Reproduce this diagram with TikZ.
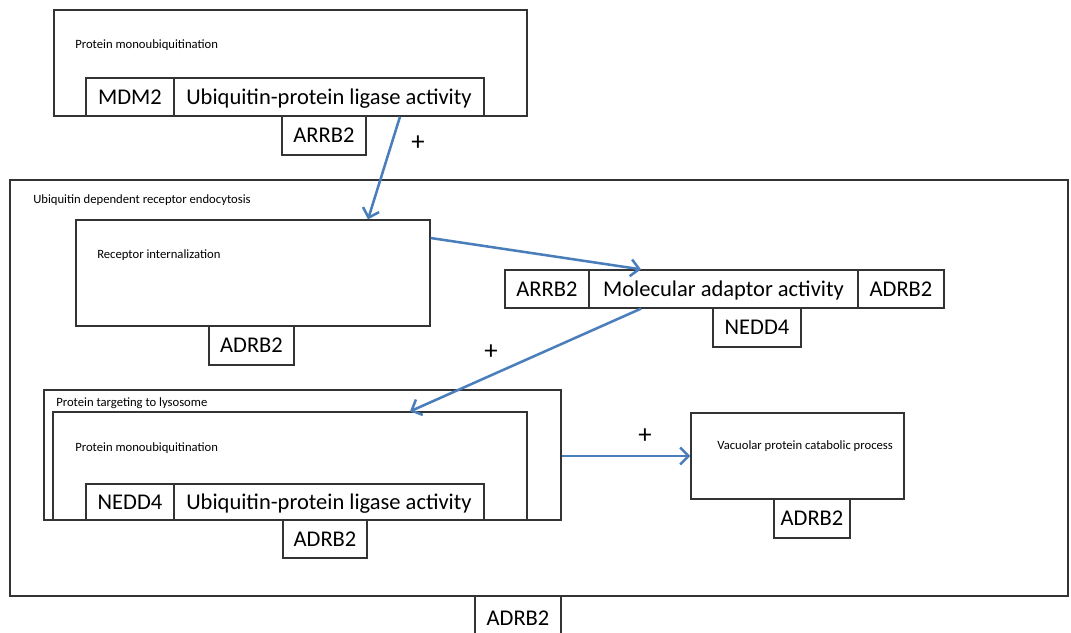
\documentclass[tikz,border=0pt]{standalone}
\usepackage{fontspec}
\setmainfont{Carlito}
\usetikzlibrary{arrows.meta,fit}
\definecolor{arrowblue}{RGB}{74,126,187}
\tikzset{
  region/.style={draw=black!80, line width=0.9pt, inner sep=0pt, fill=white},
  gene/.style={region, text depth=0pt, font=\fontsize{16}{18}\selectfont},
  size/.style 2 args={minimum width=#1*0.025cm, minimum height=#2*0.025cm},
  tag/.style={anchor=base west, inner sep=0pt, font=\fontsize{9}{11}\selectfont},
  link/.style={draw=arrowblue, line width=1.8pt, -{Straight Barb[length=6pt,width=12pt]}},
  sign/.style={inner sep=0pt, font=\fontsize{19}{19}\selectfont}
}
\begin{document}
\begin{tikzpicture}[x=0.025cm, y=-0.025cm]
  \useasboundingbox (0,0) rectangle (1071,632);
  % top: monoubiquitination by MDM2
  \node[region, fit={(54,10) (527,116)}] (monoA) {};
  \node[tag] (monoAtag) at (75,48) {Protein monoubiquitination};
  \node[gene, size={88}{38}] (mdm) at (130,97) {MDM2};
  \node[gene, size={310}{38}] (ligaseA) at (329,97) {Ubiquitin-protein ligase activity};
  \node[gene, size={84}{39}] (arrbA) at (324,135.5) {ARRB2};
  \node[sign] (plusA) at (418,143) {+};
  % endocytosis
  \node[region, fit={(10,180) (1068,596)}] (endo) {};
  \node[tag] (endotag) at (33,203) {Ubiquitin dependent receptor endocytosis};
  \node[region, fit={(76,220) (430,326)}] (intern) {};
  \node[tag] (interntag) at (97,258) {Receptor internalization};
  \node[gene, size={85}{39}] (adrbA) at (251.5,345.5) {ADRB2};
  \node[gene, size={84}{38}] (arrbB) at (547,289) {ARRB2};
  \node[gene, size={269}{38}] (adaptor) at (723.5,289) {Molecular adaptor activity};
  \node[gene, size={86}{38}] (adrbB) at (901,289) {ADRB2};
  \node[gene, size={88}{39}] (nedd) at (757,327.5) {NEDD4};
  \node[sign] (plusB) at (491,352) {+};
  % lysosome targeting
  \node[region, fit={(44,390) (561,520)}] (lyso) {};
  \node[tag] (lysotag) at (56,406) {Protein targeting to lysosome};
  \node[region, fit={(53,412) (527,520)}] (monoB) {};
  \node[tag] (monoBtag) at (75,451) {Protein monoubiquitination};
  \node[gene, size={88}{36}] (neddB) at (130,502) {NEDD4};
  \node[gene, size={310}{36}] (ligaseB) at (329,502) {Ubiquitin-protein ligase activity};
  \node[gene, size={84}{38}] (adrbC) at (325,539) {ADRB2};
  \node[sign] (plusC) at (645,436) {+};
  \node[region, fit={(691,413) (904,499)}] (vacuole) {};
  \node[tag] (vacuoletag) at (717,449) {Vacuolar protein catabolic process};
  \node[gene, size={76}{39}] (adrbD) at (812,518.5) {ADRB2};
  \node[gene, size={86}{44}] (adrbE) at (518,618) {ADRB2};
  % arrows
  \draw[link] (400,0 |- ligaseA.south) -- (368,0 |- intern.north);
  \draw[link] (intern.east |- 0,238) -- (641,0 |- adaptor.north);
  \draw[link] (641,0 |- adaptor.south) -- (410,0 |- monoB.north);
  \draw[link] (lyso.east |- 0,456) -- (vacuole.west |- 0,456);
\end{tikzpicture}
\end{document}
